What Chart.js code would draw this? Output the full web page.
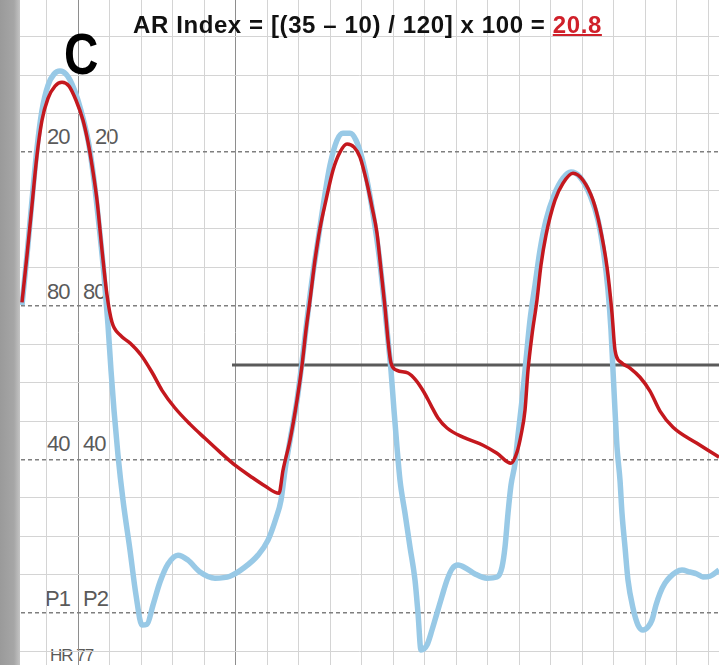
<!DOCTYPE html>
<html>
<head>
<meta charset="utf-8">
<title>AR Index</title>
<script src="https://cdn.jsdelivr.net/npm/chart.js@4.4.1/dist/chart.umd.min.js"></script>
<style>
    html, body { margin: 0; padding: 0; background: #fff; }
    #wrap { position: relative; width: 719px; height: 665px; overflow: hidden; background: #fff; }
    #wrap canvas { position: absolute; left: 0; top: 0; z-index: 2; }
    #strip {
        position: absolute; left: 0; top: 0; width: 20px; height: 665px; z-index: 3;
        background: linear-gradient(to right, #9a9a9a, #a6a6a6 70%, #c4c4c4);
    }
    .lbl {
        position: absolute; z-index: 1; white-space: nowrap; line-height: 1;
        font-family: "Liberation Sans", Arial, sans-serif; font-size: 22px; color: #5a5a5a;
        letter-spacing: -1px;
    }
    #title {
        position: absolute; z-index: 4; left: 133px; top: 13px; white-space: nowrap; line-height: 1;
        font-family: "Liberation Sans", Arial, sans-serif; font-weight: bold; font-size: 24px;
        letter-spacing: 0.6px; color: #111;
    }
    #title span { color: #d0202a; text-decoration: underline; text-decoration-thickness: 2px; }
    #panel {
        position: absolute; z-index: 4; left: 64px; top: 25px; line-height: 1;
        font-family: "Liberation Sans", Arial, sans-serif; font-weight: bold; font-size: 58px;
        color: #000; transform: scaleX(0.82); transform-origin: left top;
    }
</style>
</head>
<body>
<div id="wrap">
    <div id="strip"></div>
    <div id="title">AR Index = [(35 – 10) / 120] x 100 = <span>20.8</span></div>
    <div id="panel">C</div>
    <div class="lbl" style="left:47px;top:126px">20</div>
    <div class="lbl" style="left:95px;top:126px">20</div>
    <div class="lbl" style="left:47px;top:281px">80</div>
    <div class="lbl" style="left:83px;top:281px">80</div>
    <div class="lbl" style="left:47px;top:433px">40</div>
    <div class="lbl" style="left:83px;top:433px">40</div>
    <div class="lbl" style="left:45px;top:588px">P1</div>
    <div class="lbl" style="left:83px;top:588px">P2</div>
    <div class="lbl" style="left:50px;top:647px;font-size:17px">HR 77</div>
    <canvas id="waveChart" width="719" height="665"></canvas>
</div>

<script>
// --- DATA (time in samples, pressure in mmHg) ---
// red trace
const tRed = [22, 27, 32, 37, 42, 48, 55, 62, 69, 76, 83, 88, 92, 97, 102, 107, 112, 120, 130, 141,
    152, 162, 175, 190, 205, 220, 235, 250, 265, 279, 283, 290, 297, 302, 306, 310, 315, 320, 326, 333,
    340, 347, 354, 360, 367, 372, 377, 381, 385, 388, 391, 397, 408, 416, 424, 431, 438, 447, 463, 483,
    497, 511, 517, 521, 525, 528, 532, 537, 541, 546, 555, 563, 573, 583, 593, 600, 607, 612, 615, 621,
    630, 640, 650, 660, 673, 697, 719];
const pRed = [80.9, 93.2, 106.2, 119.2, 128.3, 134.0, 137.2, 138.2, 137.2, 133.5, 128.3, 122.6, 116.6, 107.5, 94.5, 82.8, 75.7, 72.4, 70.3, 67.2,
    62.7, 58.0, 53.4, 49.2, 45.5, 41.9, 38.5, 35.7, 33.1, 31.2, 37.2, 45.0, 55.4, 64.5, 73.7, 81.5, 91.9, 100.2, 107.5, 115.3,
    120.0, 122.1, 121.3, 118.7, 111.9, 105.7, 98.9, 89.3, 79.6, 71.1, 65.1, 63.2, 62.5, 60.6, 57.5, 54.1, 50.8, 48.2, 45.8, 43.7,
    41.6, 39.0, 41.9, 46.3, 52.8, 63.2, 72.4, 81.5, 90.6, 98.4, 107.5, 111.9, 114.5, 112.7, 107.5, 100.5, 90.1, 78.1, 68.5, 65.3,
    63.8, 61.4, 57.8, 52.6, 48.4, 44.2, 40.6];

// blue trace
const tBlue = [22, 27, 32, 37, 42, 48, 54, 60, 66, 72, 78, 84, 89, 94, 99, 104, 108, 111, 114, 118,
    123, 130, 136, 142, 147, 153, 160, 168, 178, 188, 200, 215, 230, 245, 258, 268, 276, 281, 285, 290,
    297, 302, 307, 312, 318, 324, 330, 337, 343, 350, 356, 362, 368, 374, 379, 384, 388, 391, 394, 397,
    400, 405, 410, 415, 418, 421, 427, 432, 437, 442, 447, 452, 458, 466, 475, 487, 497, 502, 505, 508,
    511, 515, 518, 522, 526, 530, 535, 540, 546, 554, 563, 571, 580, 590, 598, 604, 608, 611, 613, 615,
    617, 620, 622, 625, 628, 633, 638, 643, 648, 652, 656, 660, 665, 670, 676, 682, 690, 697, 703, 710,
    719];
const pBlue = [80.2, 93.2, 107.5, 121.0, 130.9, 137.4, 140.3, 141.1, 140.3, 137.7, 133.5, 127.8, 121.8, 112.7, 101.0, 88.0, 75.0, 63.2, 52.8, 41.1,
    29.4, 16.4, 4.7, -3.1, -2.9, 2.1, 8.1, 12.8, 15.1, 13.8, 10.7, 9.1, 9.6, 12.0, 15.1, 19.0, 24.7, 29.4, 37.2, 45.0,
    55.4, 65.3, 76.3, 86.7, 97.1, 107.5, 116.6, 123.1, 124.9, 124.9, 123.1, 118.4, 111.4, 102.3, 93.2, 81.5, 71.1, 63.2, 52.8, 43.2,
    34.6, 26.0, 17.2, 8.6, 0, -9.6, -8.3, -4.4, 0, 4.4, 8.6, 11.5, 12.5, 11.7, 10.2, 9.1, 9.4, 12.0, 17.2, 26.0,
    33.3, 39.0, 46.3, 55.4, 65.9, 76.3, 85.4, 94.5, 102.3, 108.8, 113.2, 114.8, 113.5, 108.8, 102.3, 93.2, 84.1, 73.7, 63.2, 52.8,
    43.2, 34.6, 26.0, 17.2, 8.6, 1.3, -3.1, -4.4, -3.6, -1.8, 2.1, 5.2, 7.8, 9.4, 10.7, 11.2, 10.7, 10.2, 9.4, 9.6,
    11.2];

// reference level line
const tRef = [232, 719];
const pRef = [64.6, 64.6];

// axis ranges / grid
const xMin = 0, xMax = 719;
const yMin = -13.5, yMax = 159.6;
const gridX0 = 15, gridStepX = 31.5;     // small squares (time)
const minorStepY = 10, majorStepY = 40;  // mmHg

const toPoints = (t, p) => t.map((x, i) => ({ x: x, y: p[i] }));

// Helper: tick list from start/step
function stepTicks(start, end, step) {
    const out = [];
    for (let v = start; v <= end + 0.001; v += step) out.push({ value: Math.round(v * 10) / 10 });
    return out;
}

const ctx = document.getElementById('waveChart').getContext('2d');
new Chart(ctx, {
    type: 'line',
    data: {
        datasets: [
            {
                label: 'Red', data: toPoints(tRed, pRed), yAxisID: 'y',
                borderColor: '#c4181e', borderWidth: 3.5, pointRadius: 0,
                cubicInterpolationMode: 'monotone', fill: false
            },
            {
                label: 'Blue', data: toPoints(tBlue, pBlue), yAxisID: 'y',
                borderColor: '#98c9e6', borderWidth: 5.5, pointRadius: 0,
                cubicInterpolationMode: 'monotone', fill: false
            },
            {
                label: 'Level', data: toPoints(tRef, pRef), yAxisID: 'y',
                borderColor: '#5a5a5a', borderWidth: 3, pointRadius: 0, fill: false
            }
        ]
    },
    options: {
        responsive: false,
        animation: false,
        layout: { padding: 0 },
        plugins: { legend: { display: false }, tooltip: { enabled: false }, title: { display: false } },
        scales: {
            x: {
                type: 'linear', min: xMin, max: xMax,
                afterBuildTicks: axis => { axis.ticks = stepTicks(gridX0, xMax, gridStepX); },
                ticks: { display: false },
                border: { display: false },
                grid: {
                    drawTicks: false, lineWidth: 1,
                    // every 5th small square is darker
                    color: c => (c.index === 2 || c.index === 7) ? '#8e8e8e' : '#d4d4d4'
                }
            },
            y: {
                type: 'linear', min: yMin, max: yMax,
                afterBuildTicks: axis => { axis.ticks = stepTicks(-10, 150, minorStepY); },
                ticks: { display: false },
                border: { display: false },
                grid: {
                    drawTicks: false, lineWidth: 1,
                    color: c => (c.tick.value % majorStepY === 0) ? 'rgba(0,0,0,0)' : '#d4d4d4'
                }
            },
            y2: {
                type: 'linear', position: 'right', min: yMin, max: yMax,
                afterBuildTicks: axis => { axis.ticks = stepTicks(0, 120, majorStepY); },
                ticks: { display: false },
                border: { display: false, dash: [4, 3] },
                grid: { drawTicks: false, lineWidth: 1.5, color: '#7f7f7f' }
            }
        }
    }
});
</script>
</body>
</html>
